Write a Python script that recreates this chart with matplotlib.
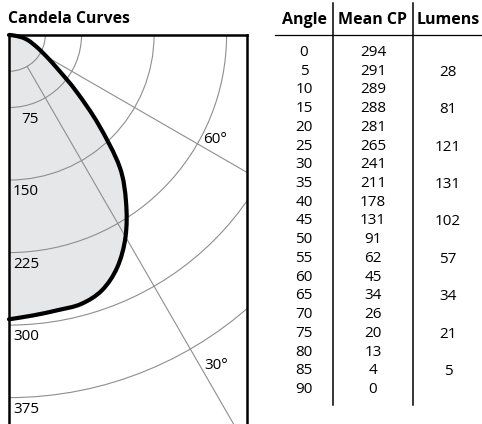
import numpy as np
import matplotlib
matplotlib.use("Agg")
import matplotlib.pyplot as plt
from matplotlib.patches import Circle, PathPatch
from matplotlib.path import Path
from matplotlib.lines import Line2D

# photometric data
angles = [0, 5, 10, 15, 20, 25, 30, 35, 40, 45, 50, 55, 60, 65, 70, 75, 80, 85, 90]
mean_cp = [294, 291, 289, 288, 281, 265, 241, 211, 178, 131, 91, 62, 45, 34, 26, 20, 13, 4, 0]
lumen_angles = [5, 15, 25, 35, 45, 55, 65, 75, 85]
lumens = [28, 81, 121, 131, 102, 57, 34, 21, 5]

grid_radii = [37.5, 75, 150, 225, 300, 375]
radial_labels = [75, 150, 225, 300, 375]
ray_angles = [30, 60]

plt.rcParams['font.family'] = ['Open Sans', 'DejaVu Sans']

W, H = 482, 424
fig = plt.figure(figsize=(W / 100, H / 100), dpi=100)


def fx(px):
    return px / W


def fy(py):
    return 1 - py / H


def smooth_path(xs, ys, start=None):
    # catmull-rom through the points, drawn as cubic bezier segments
    pts = np.column_stack([xs, ys])
    n = len(pts)
    if start is None:
        verts, codes = [pts[0]], [Path.MOVETO]
    else:
        verts, codes = [start, pts[0]], [Path.MOVETO, Path.LINETO]
    for i in range(n - 1):
        p0 = pts[max(i - 1, 0)]
        p1 = pts[i]
        p2 = pts[i + 1]
        p3 = pts[min(i + 2, n - 1)]
        verts += [p1 + (p2 - p0) / 6, p2 - (p3 - p1) / 6, p2]
        codes += [Path.CURVE4] * 3
    return Path(verts, codes)


# polar plot drawn in a cartesian box, origin at the top-left corner
scale = 0.967  # pixels per candela
x0, y0, x1, y1 = 9, 35, 247, 445
ax = fig.add_axes([fx(x0), fy(y1), fx(x1) - fx(x0), fy(y0) - fy(y1)])
ax.set_xlim(0, (x1 - x0) / scale)
ax.set_ylim((y1 - y0) / scale, 0)
ax.set_xticks([])
ax.set_yticks([])
for s in ['left', 'top', 'right']:
    ax.spines[s].set_linewidth(1.8)
ax.spines['bottom'].set_visible(False)

th = np.radians(angles)
cx = np.array(mean_cp) * np.sin(th)
cy = np.array(mean_cp) * np.cos(th)

ax.add_patch(PathPatch(smooth_path(cx, cy, start=(0, 0)), fc='#e6e7e9', lw=0, zorder=1))

for r in grid_radii:
    ax.add_patch(Circle((0, 0), r, fill=False, ec='#8e8e8e', lw=0.8, zorder=2))
for a in ray_angles:
    t = np.radians(a)
    ax.plot([37.5 * np.sin(t), 600 * np.sin(t)], [37.5 * np.cos(t), 600 * np.cos(t)],
            color='#8e8e8e', lw=0.8, zorder=2)

ax.add_patch(PathPatch(smooth_path(cx, cy), fill=False, ec='black', lw=3.0,
                       joinstyle='round', capstyle='round', zorder=3, clip_on=False))

for r in radial_labels:
    ax.text(31, r + 12, str(r), ha='right', va='center', fontsize=11)

ax.annotate('60°', (225 * np.sin(np.radians(60)), 225 * np.cos(np.radians(60))),
            xytext=(6, 4), textcoords='offset pixels', ha='left', va='center', fontsize=11)
ax.annotate('30°', (375 * np.sin(np.radians(30)), 375 * np.cos(np.radians(30))),
            xytext=(14, -16), textcoords='offset pixels', ha='left', va='center', fontsize=11)

fig.text(fx(8), fy(19), 'Candela Curves', ha='left', va='center', fontsize=11.3, fontweight='bold')

# table
col_x = [304, 373, 448]
headers = ['Angle', 'Mean CP', 'Lumens']
for xc, h in zip(col_x, headers):
    fig.text(fx(xc), fy(20), h, ha='center', va='center', fontsize=11.5, fontweight='bold')

row0, pitch = 52.5, 18.72
for i, (a, cp) in enumerate(zip(angles, mean_cp)):
    yy = fy(row0 + i * pitch)
    fig.text(fx(col_x[0]), yy, str(a), ha='center', va='center', fontsize=11)
    fig.text(fx(col_x[1]), yy, str(cp), ha='center', va='center', fontsize=11)
for a, lm in zip(lumen_angles, lumens):
    i = angles.index(a)
    fig.text(fx(col_x[2]), fy(row0 + i * pitch + 1), str(lm), ha='center', va='center', fontsize=11)

for xv in [333, 413]:
    fig.add_artist(Line2D([fx(xv), fx(xv)], [fy(3), fy(405)], color='black', lw=1.1))
fig.add_artist(Line2D([fx(275), fx(482)], [fy(34.5), fy(34.5)], color='black', lw=0.9))

fig.savefig('out.png', dpi=100)
